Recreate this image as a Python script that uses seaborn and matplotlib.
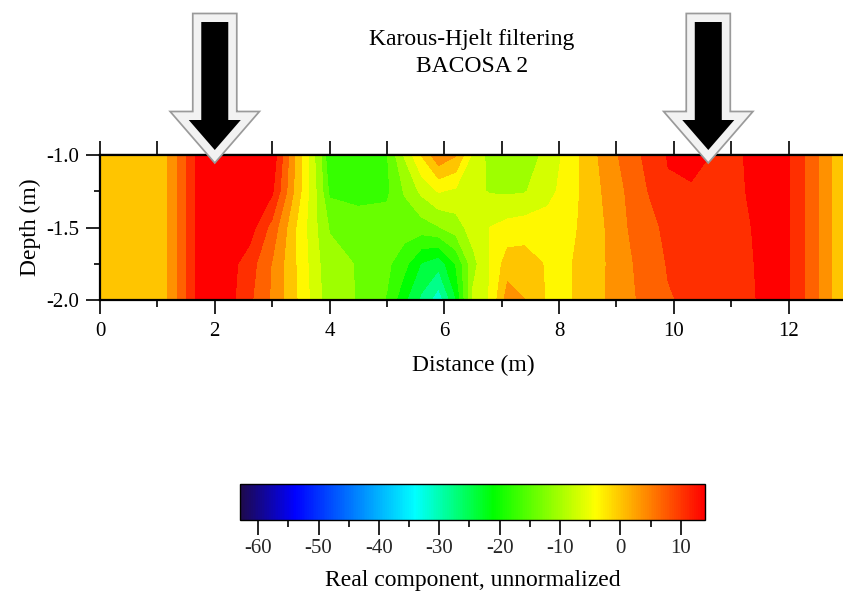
import numpy as np
import pandas as pd
import matplotlib
matplotlib.use("Agg")
import matplotlib.pyplot as plt
import matplotlib.patches as mpatches
from matplotlib.colors import LinearSegmentedColormap, Normalize
from matplotlib.cm import ScalarMappable
from matplotlib.transforms import blended_transform_factory
from matplotlib.ticker import MultipleLocator, FixedLocator
import seaborn as sns

# ---------------- data ----------------
distance_m = [0.0, 1.1, 1.75, 2.2, 2.6, 3.0, 3.4, 3.85, 4.0, 4.5, 5.0, 5.3, 5.6,
              5.9, 6.2, 6.5, 6.8, 7.1, 7.4, 7.8, 8.2, 8.6, 9.0, 9.4, 9.9, 10.3,
              10.7, 11.2, 11.6, 12.0, 12.4, 12.8, 13.0]
depth_m = [-1.0, -1.25, -1.5, -1.75, -2.0]

real_at_1_00 = [0, 0, 14, 14, 14, 14.8, 1.5, -12, -19, -19, -16, -8.5, -1.6,
                4.5, 2.0, -6, -10, -11, -10.5, -7.8, -3.5, 1.0, 5.0, 8.5, 12.5, 13.5,
                12.0, 12.2, 14, 12.5, 7.1, 0.85, -1]
real_at_1_25 = [0, 0, 14, 14, 14, 12.8, 1.0, -11, -16.5, -17, -16.5, -12, -8,
                -5, -6, -8, -9, -9.3, -9, -6.5, -3.2, 0.5, 4, 7.5, 11.8, 11.8,
                11.5, 12, 14, 12.5, 7.1, 0.85, -1]
real_at_1_50 = [0, 0, 14, 14, 14, 7.5, -1.5, -10, -12.5, -14, -14, -14, -14,
                -12.5, -10.5, -7, -5.2, -4, -3.5, -3.5, -2.5, 0, 3.5, 7, 9.5, 10,
                10.5, 11.5, 13.5, 12.5, 7.1, 0.85, -1]
real_at_1_75 = [0, 0, 14, 14, 10.5, 5, -1.5, -9, -11, -12.5, -15, -18, -23,
                -25, -19, -10, -5, 0, 0, -2.2, -1.9, 0, 3.2, 6, 9, 9.5,
                10, 11.3, 13.2, 12.5, 7.1, 0.85, -1]
real_at_2_00 = [0, 0, 14, 14, 9.5, 4.7, -1.2, -8.5, -10.5, -12.5, -16, -22, -27,
                -32, -23, -8, -5, 3.5, 1.8, -2.2, -2.0, 0.5, 3, 5.6, 8.5, 9.3,
                10, 11.2, 13, 12.5, 7.1, 0.85, -1]

arrow_distance_m = [2.0, 10.6]
x_ticks = [0, 2, 4, 6, 8, 10, 12]
y_ticks = [-1.0, -1.5, -2.0]
cbar_ticks = [-60, -50, -40, -30, -20, -10, 0, 10]
value_min, value_max = -63, 14
title_text = "Karous-Hjelt filtering\nBACOSA 2"
x_label = "Distance (m)"
y_label = "Depth (m)"
cbar_label = "Real component, unnormalized"

# ---------------- style ----------------
sns.set_theme(style="ticks")
plt.rcParams["font.family"] = ["Liberation Serif", "DejaVu Serif"]
plt.rcParams["axes.unicode_minus"] = False

rows = [real_at_1_00, real_at_1_25, real_at_1_50, real_at_1_75, real_at_2_00]
df = pd.DataFrame([(d, x, v) for d, r in zip(depth_m, rows) for x, v in zip(distance_m, r)],
                  columns=["depth", "distance", "value"])
grid = df.pivot(index="depth", columns="distance", values="value")
X, Y = np.meshgrid(grid.columns.values, grid.index.values)
Z = grid.values

span = value_max - value_min
anchors = [(-63, "#1e0a4c"), (-54, "#0000ff"), (-34, "#00ffff"),
           (-21, "#00ff00"), (-4, "#ffff00"), (14, "#ff0000")]
cmap = LinearSegmentedColormap.from_list(
    "kh", [((v - value_min) / span, c) for v, c in anchors])
norm = Normalize(value_min, value_max)
levels = np.arange(-64.75, 16, 3.5)

W, H = 843, 596
fig = plt.figure(figsize=(W / 100, H / 100), dpi=100)
ax = fig.add_axes([100 / W, 1 - 300 / H, 746 / W, 145 / H])
ax.contourf(X, Y, Z, levels=levels, cmap=cmap, norm=norm)
ax.set_xlim(0, 13)
ax.set_ylim(-2.0, -1.0)

for s in ["left", "bottom", "top"]:
    ax.spines[s].set_linewidth(1.6)
    ax.spines[s].set_color("black")
ax.spines["right"].set_visible(False)

ax.xaxis.set_major_locator(FixedLocator(x_ticks))
ax.xaxis.set_minor_locator(MultipleLocator(1))
ax.yaxis.set_major_locator(FixedLocator(y_ticks))
ax.yaxis.set_minor_locator(MultipleLocator(0.25))
ax.set_yticklabels([f"{v:.1f}" for v in y_ticks])
ax.tick_params(axis="both", which="major", direction="out", length=10, width=1.2,
               color="black", labelsize=15, labelcolor="black")
ax.tick_params(axis="x", which="major", pad=6)
ax.tick_params(axis="y", which="major", pad=5)
ax.tick_params(axis="x", which="minor", direction="out", length=5, width=1.2, color="black")
ax.tick_params(axis="y", which="minor", direction="out", length=4, width=1.2, color="black")
ax.tick_params(right=False, top=False, which="both")

sec = ax.secondary_xaxis("top")
sec.xaxis.set_major_locator(MultipleLocator(1))
sec.tick_params(direction="out", length=10, width=1.2, color="black", labelsize=0,
                labeltop=False)
sec.spines["top"].set_linewidth(1.6)

ax.set_xlabel(x_label, fontsize=17, labelpad=10, color="black")
ax.set_ylabel(y_label, fontsize=17, labelpad=4, color="black")

fig.text(472 / W, 1 - 53 / H, title_text, ha="center", va="center",
         fontsize=17, linespacing=1.35, color="black")

# arrows marking positions along the profile
btf = blended_transform_factory(ax.transData, fig.transFigure)
px = 746 / 13.0
for xa in arrow_distance_m:
    for ec, lw, z in [("#9a9a9a", 13.5, 20), ("#f2f2f2", 11, 21), ("none", 0, 22)]:
        arr = mpatches.FancyArrow(xa, 1 - 22 / H, 0, -(150 - 22) / H,
                                  width=27 / px, head_width=52 / px,
                                  head_length=30 / H, length_includes_head=True,
                                  transform=btf, facecolor="black", edgecolor=ec,
                                  linewidth=lw, clip_on=False, zorder=z)
        ax.add_patch(arr)
ax.set_xlim(0, 13)
ax.set_ylim(-2.0, -1.0)

# colorbar
cax = fig.add_axes([240 / W, 1 - 520 / H, 465 / W, 36 / H])
sm = ScalarMappable(norm=norm, cmap=cmap)
cb = fig.colorbar(sm, cax=cax, orientation="horizontal")
cb.set_ticks(cbar_ticks)
cb.ax.xaxis.set_minor_locator(MultipleLocator(5))
cb.ax.tick_params(which="major", direction="out", length=11, width=1.2, color="black",
                  labelsize=15, pad=3)
cb.ax.tick_params(which="minor", direction="out", length=5, width=1.2, color="black")
cb.outline.set_linewidth(1.0)
cb.outline.set_edgecolor("black")
cb.set_label(cbar_label, fontsize=17, labelpad=8, color="black")

fig.savefig("out.png", dpi=100)
